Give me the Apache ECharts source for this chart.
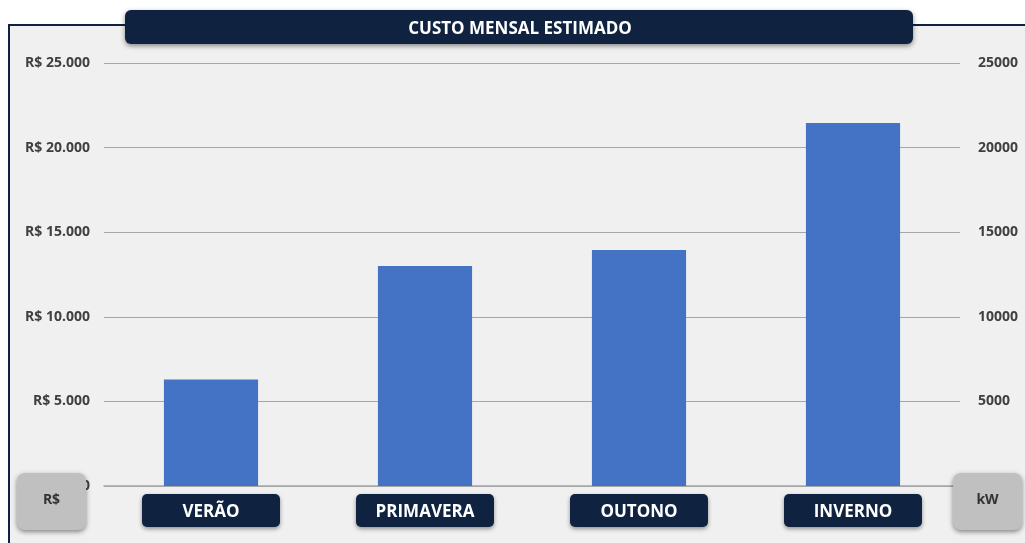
<!DOCTYPE html>
<html>
<head>
<meta charset="utf-8">
<script src="https://cdn.jsdelivr.net/npm/echarts@6/dist/echarts.min.js"></script>
<style>
  html, body { margin: 0; padding: 0; background: #fff; }
  #chart { width: 1025px; height: 543px; }
</style>
</head>
<body>
<div id="chart"></div>
<script>
// dados do gráfico
var estacoes = ['VERÃO', 'PRIMAVERA', 'OUTONO', 'INVERNO'];
var custos = [6300, 13000, 13950, 21450];
var eixoMin = 0, eixoMax = 25000, eixoPasso = 5000;

var navy = '#0f2340';
var fonte = '"Open Sans", "Noto Sans", sans-serif';

function formataReais(v) {
    return 'R$ ' + String(v).replace(/\B(?=(\d{3})+(?!\d))/g, '.');
}

function botao(x, texto) {
    return {
        type: 'group',
        zlevel: 1,
        children: [{
            type: 'rect',
            zlevel: 1,
            shape: { x: x, y: 473, width: 69, height: 57, r: 8 },
            style: { fill: '#c0c0c0', shadowBlur: 5, shadowOffsetY: 2, shadowColor: 'rgba(0,0,0,0.45)' }
        }, {
            type: 'text',
            zlevel: 1,
            z: 101,
            x: x + 34.5, y: 500,
            style: { text: texto, fill: '#333', font: 'bold 14px ' + fonte, align: 'center', verticalAlign: 'middle' }
        }]
    };
}

var myChart = echarts.init(document.getElementById('chart'));
var option = {
    backgroundColor: '#fff',
    animation: false,
    grid: { left: 104, right: 65, top: 63, bottom: 57 },
    xAxis: {
        type: 'category',
        data: estacoes,
        axisLine: { lineStyle: { color: '#a6a6a6', width: 1.5 } },
        axisTick: { show: false },
        axisLabel: {
            margin: 8,
            color: '#fff',
            fontFamily: fonte,
            fontWeight: 'bold',
            fontSize: 17,
            width: 138,
            height: 33,
            lineHeight: 36,
            align: 'center',
            backgroundColor: navy,
            borderRadius: 5,
            shadowBlur: 4,
            shadowOffsetY: 2,
            shadowColor: 'rgba(0,0,0,0.4)'
        }
    },
    yAxis: [{
        type: 'value',
        min: eixoMin, max: eixoMax, interval: eixoPasso,
        axisLine: { show: false },
        axisTick: { show: false },
        splitLine: { lineStyle: { color: '#a6a6a6', width: 1 } },
        axisLabel: {
            margin: 14,
            color: '#404040',
            fontFamily: fonte,
            fontWeight: 'bold',
            fontSize: 14,
            formatter: formataReais
        }
    }, {
        type: 'value',
        min: eixoMin, max: eixoMax, interval: eixoPasso,
        axisLine: { show: false },
        axisTick: { show: false },
        splitLine: { show: false },
        axisLabel: {
            margin: 18,
            color: '#404040',
            fontFamily: fonte,
            fontWeight: 'bold',
            fontSize: 14,
            formatter: function (v) { return String(v); }
        }
    }],
    series: [{
        type: 'bar',
        name: 'Custo',
        yAxisIndex: 0,
        data: custos,
        barWidth: '44%',
        itemStyle: { color: '#4472c4' }
    }],
    graphic: [{
        type: 'rect',
        z: -10,
        shape: { x: 9, y: 25, width: 1040, height: 540 },
        style: { fill: '#f0f0f0', stroke: navy, lineWidth: 2 }
    }, {
        type: 'group',
        zlevel: 1,
        children: [{
            type: 'rect',
            zlevel: 1,
            shape: { x: 125, y: 10, width: 788, height: 34, r: 6 },
            style: { fill: navy, shadowBlur: 5, shadowOffsetY: 2, shadowColor: 'rgba(0,0,0,0.45)' }
        }, {
            type: 'text',
            zlevel: 1,
            z: 101,
            x: 520, y: 29,
            style: { text: 'CUSTO MENSAL ESTIMADO', fill: '#fff', font: 'bold 17px ' + fonte, align: 'center', verticalAlign: 'middle' }
        }]
    }, botao(17, 'R$'), botao(953, 'kW')]
};
myChart.setOption(option);
</script>
</body>
</html>
